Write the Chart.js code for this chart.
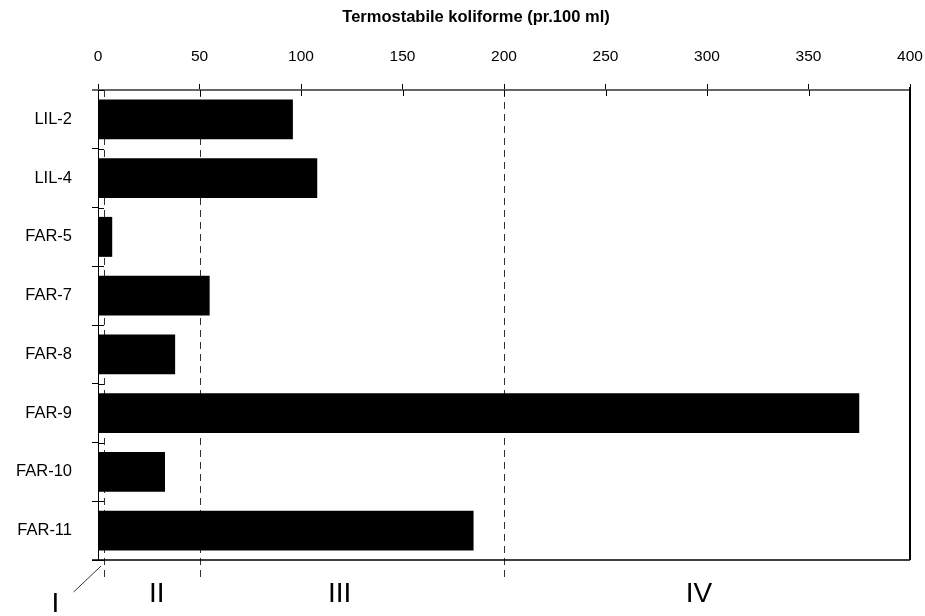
<!DOCTYPE html>
<html>
<head>
<meta charset="utf-8">
<script src="https://cdn.jsdelivr.net/npm/chart.js@4.4.0/dist/chart.umd.min.js"></script>
<style>
  html, body { margin: 0; padding: 0; background: #fff; }
  #wrap { width: 925px; height: 616px; position: relative; }
</style>
</head>
<body>
<div id="wrap"><canvas id="grafico"></canvas></div>
<script>
// --- data ---
const categories = ["LIL-2", "LIL-4", "FAR-5", "FAR-7", "FAR-8", "FAR-9", "FAR-10", "FAR-11"];
const values = [96, 108, 7, 55, 38, 375, 33, 185];
const classLimits = [3, 50, 200];           // dashed class boundaries
const classLabels = ["I", "II", "III", "IV"];
const classLabelAt = [-21, 29, 119, 296];   // x value where each class label sits
const titleText = "Termostabile koliforme (pr.100 ml)";

const FONT = "Arial, 'Liberation Sans', sans-serif";

// extra drawing: frame, crossing ticks, dashed class lines, class labels
const extras = {
  id: "extras",
  beforeDatasetsDraw(chart) {
    const { ctx, chartArea, scales } = chart;
    const x = scales.x;
    ctx.save();
    ctx.strokeStyle = "#333";
    ctx.lineWidth = 1;
    ctx.setLineDash([7, 5]);
    classLimits.forEach(v => {
      const px = Math.round(x.getPixelForValue(v)) + 0.5;
      ctx.beginPath();
      ctx.moveTo(px, chartArea.top);
      ctx.lineTo(px, chartArea.bottom + 17);
      ctx.stroke();
    });
    ctx.restore();
  },
  afterDraw(chart) {
    const { ctx, chartArea, scales } = chart;
    const x = scales.x, y = scales.y;
    ctx.save();
    // title
    ctx.fillStyle = "#000";
    ctx.font = "bold 16.5px " + FONT;
    ctx.textAlign = "center";
    ctx.textBaseline = "middle";
    ctx.fillText(titleText, 476, 17);

    // top axis line reaches a bit past 0
    ctx.strokeStyle = "#666";
    ctx.lineWidth = 2;
    ctx.beginPath();
    ctx.moveTo(chartArea.left - 6, chartArea.top);
    ctx.lineTo(chartArea.left, chartArea.top);
    ctx.stroke();

    // right + bottom frame
    ctx.strokeStyle = "#000";
    ctx.lineWidth = 2;
    ctx.beginPath();
    ctx.moveTo(chartArea.right, chartArea.top - 3);
    ctx.lineTo(chartArea.right, chartArea.bottom);
    ctx.stroke();
    ctx.lineWidth = 1.5;
    ctx.beginPath();
    ctx.moveTo(chartArea.left - 6, chartArea.bottom);
    ctx.lineTo(chartArea.right, chartArea.bottom);
    ctx.stroke();

    // inner halves of the ticks
    ctx.lineWidth = 1;
    for (let v = 0; v <= 400; v += 50) {
      const px = Math.round(x.getPixelForValue(v)) + 0.5;
      ctx.beginPath();
      ctx.moveTo(px, chartArea.top);
      ctx.lineTo(px, chartArea.top + 6);
      ctx.stroke();
    }
    for (let i = 0; i <= categories.length; i++) {
      const py = Math.round(y.getPixelForValue(i - 0.5)) + 0.5;
      ctx.beginPath();
      ctx.moveTo(chartArea.left, py);
      ctx.lineTo(chartArea.left + 6, py);
      ctx.stroke();
    }

    // class labels
    ctx.font = "28px " + FONT;
    ctx.textBaseline = "alphabetic";
    classLabels.forEach((t, i) => {
      const px = x.getPixelForValue(classLabelAt[i]);
      const py = i === 0 ? chartArea.bottom + 52 : chartArea.bottom + 42;
      ctx.fillText(t, px, py);
    });
    // pointer from "I" to its narrow class
    ctx.strokeStyle = "#333";
    ctx.beginPath();
    ctx.moveTo(x.getPixelForValue(-12), chartArea.bottom + 32);
    ctx.lineTo(x.getPixelForValue(1.5), chartArea.bottom + 6);
    ctx.stroke();
    ctx.restore();
  }
};

new Chart(document.getElementById("grafico").getContext("2d"), {
  type: "bar",
  data: {
    labels: categories,
    datasets: [{
      data: values,
      backgroundColor: "#000",
      borderWidth: 0,
      barPercentage: 0.68,
      categoryPercentage: 1
    }]
  },
  options: {
    indexAxis: "y",
    responsive: true,
    maintainAspectRatio: false,
    animation: false,
    layout: { padding: { left: 0, right: 15, top: 0, bottom: 56 } },
    plugins: {
      legend: { display: false },
      title: { display: false },
      tooltip: { enabled: false }
    },
    scales: {
      x: {
        position: "top",
        min: 0,
        max: 400,
        afterFit(scale) {
          scale.height = 90;
          scale.paddingLeft = 0;
          scale.paddingRight = 0;
        },
        ticks: {
          stepSize: 50,
          color: "#000",
          padding: 18,
          font: { family: FONT, size: 15.5 }
        },
        grid: { drawOnChartArea: false, tickLength: 6, color: "#000" },
        border: { color: "#666", width: 2 }
      },
      y: {
        afterFit(scale) { scale.width = 98; },
        ticks: {
          color: "#000",
          padding: 20,
          font: { family: FONT, size: 16.5 }
        },
        grid: { drawOnChartArea: false, tickLength: 6, color: "#000", offset: true },
        border: { color: "#000", width: 1 }
      }
    }
  },
  plugins: [extras]
});
</script>
</body>
</html>
